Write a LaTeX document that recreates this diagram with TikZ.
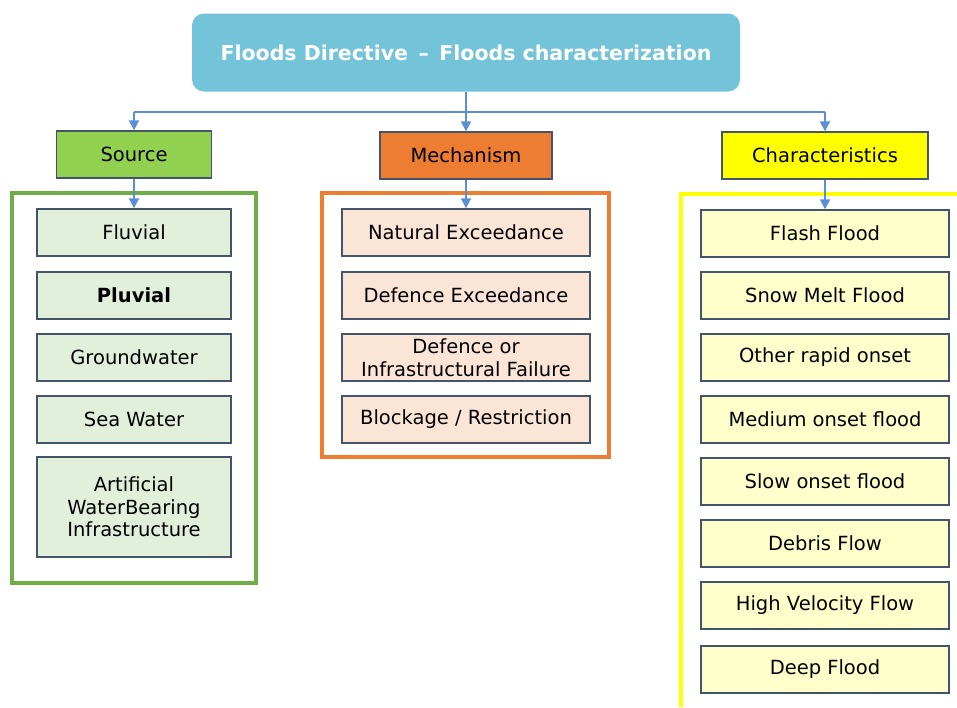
\documentclass[tikz,border=0pt]{standalone}
\usepackage{fontspec}
\setmainfont{DejaVu Sans}
\usetikzlibrary{arrows.meta}
\definecolor{titlefill}{HTML}{73C3D9}
\definecolor{conn}{HTML}{5B8FD5}
\definecolor{edge}{HTML}{44546A}
\definecolor{srcfill}{HTML}{92D050}
\definecolor{mechfill}{HTML}{ED7D31}
\definecolor{charfill}{HTML}{FFFF00}
\definecolor{srcitem}{HTML}{E2EFDA}
\definecolor{mechitem}{HTML}{FBE5D6}
\definecolor{charitem}{HTML}{FFFFCC}
\definecolor{srcframe}{HTML}{70AD47}
\definecolor{mechframe}{HTML}{ED7D31}
\definecolor{charframe}{HTML}{FFFF00}
\tikzset{
  header/.style={draw=edge, line width=1.4pt, minimum height=47pt, inner sep=0pt, font=\fontsize{19.5}{22}\selectfont},
  item/.style={draw=edge, line width=1.4pt, minimum height=47pt, inner sep=0pt, align=center, font=\fontsize{19.5}{22.5}\selectfont},
  srcbox/.style={item, fill=srcitem, minimum width=194pt},
  mechbox/.style={item, fill=mechitem, minimum width=248pt},
  charbox/.style={item, fill=charitem, minimum width=248pt},
  frame/.style={line width=3.4pt},
  conline/.style={draw=conn, line width=1.8pt},
  conarrow/.style={conline, -{Triangle[length=10pt,width=10pt]}},
}
\begin{document}
\begin{tikzpicture}[x=1pt,y=-1pt]
\useasboundingbox (0,0) rectangle (957,707);
% title
\node[fill=titlefill, rounded corners=12pt, minimum width=548pt, minimum height=78pt, inner sep=0pt,
  text=white, font=\bfseries\fontsize{20.5}{24}\selectfont] (title) at (466,52.5) {Floods Directive \,–\, Floods characterization};
% headers
\node[header, fill=srcfill, minimum width=155pt] (source) at (134,154.5) {Source};
\node[header, fill=mechfill, minimum width=172pt] (mech) at (466,155.5) {Mechanism};
\node[header, fill=charfill, minimum width=206pt] (charc) at (825,155.5) {Characteristics};
% frames
\draw[srcframe, frame] (12,193) rectangle (256,583);
\draw[mechframe, frame] (322,193) rectangle (609,457);
\draw[charframe, frame] (681,707) -- (681,194) -- (957,194);
% source items
\node[srcbox] (fluvial) at (134,232.5) {Fluvial};
\node[srcbox] (pluvial) at (134,295.5) {\bfseries Pluvial};
\node[srcbox] (ground) at (134,357.5) {Groundwater};
\node[srcbox] (sea) at (134,419.5) {Sea Water};
\node[srcbox, minimum height=100pt] (artif) at (134,507) {Artificial\\WaterBearing\\Infrastructure};
% mechanism items
\node[mechbox] (natural) at (466,232.5) {Natural Exceedance};
\node[mechbox] (defexc) at (466,295.5) {Defence Exceedance};
\node[mechbox] (deffail) at (466,357.5) {Defence or\\Infrastructural Failure};
\node[mechbox] (block) at (466,419.5) {Blockage / Restriction};
% characteristics items
\node[charbox] (flash) at (825,233.5) {Flash Flood};
\node[charbox] (snow) at (825,295.5) {Snow Melt Flood};
\node[charbox] (other) at (825,357.5) {Other rapid onset};
\node[charbox] (medium) at (825,419.5) {Medium onset flood};
\node[charbox] (slow) at (825,481.5) {Slow onset flood};
\node[charbox] (debris) at (825,543.5) {Debris Flow};
\node[charbox] (high) at (825,605.5) {High Velocity Flow};
\node[charbox] (deep) at (825,669.5) {Deep Flood};
% connectors
\coordinate (hub) at (466,112);
\coordinate (hl) at (134,112);
\coordinate (hr) at (825,112);
\draw[conline] (title.south) -- (hub);
\draw[conline] (hl) -- (hr);
\draw[conarrow] (hl) -- (source.north);
\draw[conarrow] (hub) -- (mech.north);
\draw[conarrow] (hr) -- (charc.north);
\draw[conarrow] (source.south) -- (fluvial.north);
\draw[conarrow] (mech.south) -- (natural.north);
\draw[conarrow] (charc.south) -- (flash.north);
\end{tikzpicture}
\end{document}
